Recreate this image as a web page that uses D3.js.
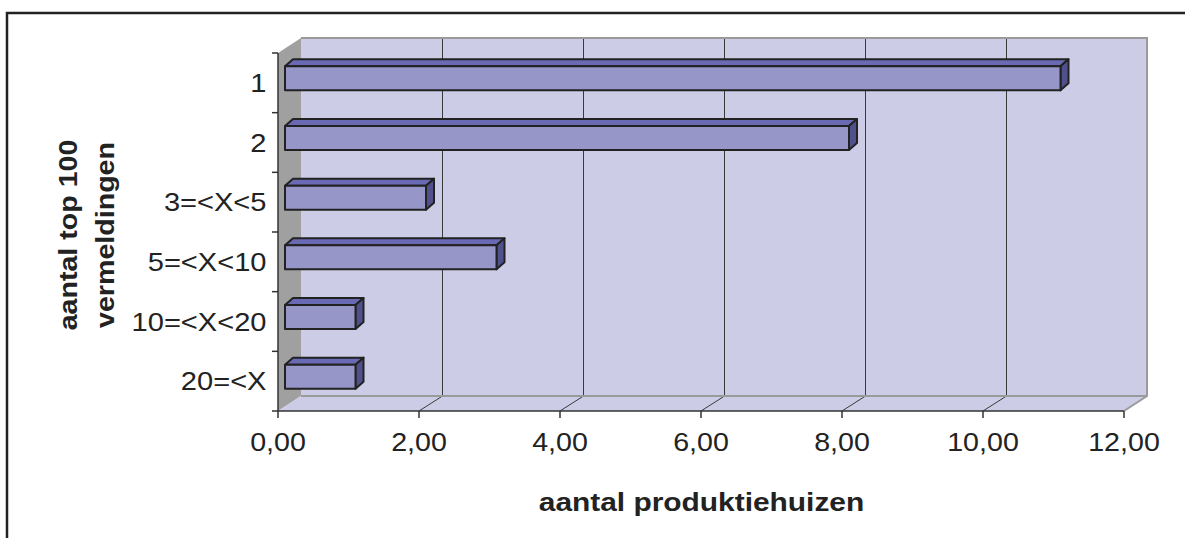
<!DOCTYPE html>
<html>
<head>
<meta charset="utf-8">
<script src="https://cdn.jsdelivr.net/npm/d3@7"></script>
<style>
  html, body { margin: 0; padding: 0; background: #fff; }
  svg { display: block; }
  text { font-family: Arial, "Liberation Sans", sans-serif; fill: #222; }
</style>
</head>
<body>
<svg id="chart" width="1185" height="538"></svg>
<script>
// Categories (number of top-100 mentions) and number of production houses
const categories = ["1", "2", "3=<X<5", "5=<X<10", "10=<X<20", "20=<X"];
const values = [11, 8, 2, 3, 1, 1];
const xTicks = [0, 2, 4, 6, 8, 10, 12];
const xTitle = "aantal produktiehuizen";
const yTitleLines = ["aantal top 100", "vermeldingen"];

const svg = d3.select("#chart");

// 3D frame geometry
const front = { left: 278, right: 1124, top: 53, bottom: 411 };
const depth = { dx: 23, dy: -15 };      // offset from front plane to back wall
const barFront = { dx: 7, dy: -4.5 };   // bar front face offset
const barDepth = { dx: 8, dy: -7 };     // bar thickness in depth
const barH = 24;

const x = d3.scaleLinear().domain([0, 12]).range([front.left, front.right]);
const y = d3.scaleBand().domain(categories).range([front.top, front.bottom]).padding(0);

const wallFill = "#CCCCE6";
const sideWallFill = "#A0A0A0";
const pts = a => a.map(p => p.join(",")).join(" ");

// outer frame
svg.append("rect")
  .attr("x", 7).attr("y", 13).attr("width", 1220).attr("height", 600)
  .attr("fill", "none").attr("stroke", "#222").attr("stroke-width", 2.5);

// left side wall
svg.append("polygon")
  .attr("points", pts([
    [front.left, front.top],
    [front.left + depth.dx, front.top + depth.dy],
    [front.left + depth.dx, front.bottom + depth.dy],
    [front.left, front.bottom]
  ]))
  .attr("fill", sideWallFill);

// floor
svg.append("polygon")
  .attr("points", pts([
    [front.left, front.bottom],
    [front.left + depth.dx, front.bottom + depth.dy],
    [front.right + depth.dx, front.bottom + depth.dy],
    [front.right, front.bottom]
  ]))
  .attr("fill", wallFill);

// back wall
svg.append("rect")
  .attr("x", front.left + depth.dx).attr("y", front.top + depth.dy)
  .attr("width", front.right - front.left).attr("height", front.bottom - front.top)
  .attr("fill", wallFill);

// gridlines on back wall and floor
const grid = svg.append("g").attr("stroke", "#3a3a3a").attr("stroke-width", 1);
xTicks.filter(t => t > 0 && t < 12).forEach(t => {
  const bx = Math.round(x(t) + depth.dx) + 0.5;
  grid.append("line")
    .attr("x1", bx).attr("x2", bx)
    .attr("y1", front.top + depth.dy).attr("y2", front.bottom + depth.dy);
  grid.append("line")
    .attr("x1", bx).attr("y1", front.bottom + depth.dy)
    .attr("x2", x(t)).attr("y2", front.bottom);
});

// wall borders
const border = svg.append("g").attr("stroke", "#9a9a9a").attr("stroke-width", 2).attr("fill", "none");
border.append("polyline")
  .attr("points", pts([
    [front.left + depth.dx, front.top + depth.dy],
    [front.right + depth.dx, front.top + depth.dy],
    [front.right + depth.dx, front.bottom + depth.dy],
    [front.right, front.bottom]
  ]));
border.append("line")
  .attr("x1", front.left + depth.dx).attr("y1", front.bottom + depth.dy)
  .attr("x2", front.right + depth.dx).attr("y2", front.bottom + depth.dy);

// axis lines and ticks
const axis = svg.append("g").attr("stroke", "#333").attr("stroke-width", 1.5);
axis.append("line")
  .attr("x1", front.left).attr("x2", front.right)
  .attr("y1", front.bottom).attr("y2", front.bottom);
axis.append("line")
  .attr("x1", front.left).attr("x2", front.left)
  .attr("y1", front.top).attr("y2", front.bottom);
xTicks.forEach(t => {
  axis.append("line")
    .attr("x1", x(t)).attr("x2", x(t))
    .attr("y1", front.bottom).attr("y2", front.bottom + 7);
});
categories.map(c => y(c)).concat([front.bottom]).forEach(b => {
  axis.append("line")
    .attr("x1", front.left - 6).attr("x2", front.left)
    .attr("y1", b).attr("y2", b);
});

// bars: top face, side face, front face
const bars = svg.append("g").attr("stroke", "#222").attr("stroke-width", 2).attr("stroke-linejoin", "round");
categories.forEach((c, i) => {
  const v = values[i];
  const x0 = x(0) + barFront.dx;
  const x1 = x(v) + barFront.dx;
  const cy = y(c) + y.bandwidth() / 2 + barFront.dy;
  const y0 = cy - barH / 2, y1 = cy + barH / 2;
  const ddx = barDepth.dx, ddy = barDepth.dy;
  bars.append("polygon")
    .attr("points", pts([[x0, y0], [x0 + ddx, y0 + ddy], [x1 + ddx, y0 + ddy], [x1, y0]]))
    .attr("fill", "#6A6AB4");
  bars.append("polygon")
    .attr("points", pts([[x1, y0], [x1 + ddx, y0 + ddy], [x1 + ddx, y1 + ddy], [x1, y1]]))
    .attr("fill", "#50508C");
  bars.append("rect")
    .attr("x", x0).attr("y", y0).attr("width", x1 - x0).attr("height", barH)
    .attr("fill", "#9696C8");
});

// category labels
const fmt = d3.formatLocale({ decimal: ",", thousands: ".", grouping: [3], currency: ["", ""] }).format(".2f");
categories.forEach(c => {
  svg.append("text")
    .attr("transform", `translate(266.5,${y(c) + y.bandwidth() / 2 + 9}) scale(1.14,1)`)
    .attr("text-anchor", "end")
    .attr("font-size", 25.5)
    .text(c);
});

// x tick labels
xTicks.forEach(t => {
  svg.append("text")
    .attr("transform", `translate(${x(t)},451) scale(1.08,1)`)
    .attr("text-anchor", "middle")
    .attr("font-size", 26.5)
    .text(fmt(t));
});

// axis titles
svg.append("text")
  .attr("transform", `translate(701.5,510.5) scale(1.15,1)`)
  .attr("text-anchor", "middle")
  .attr("font-size", 26)
  .attr("font-weight", "bold")
  .text(xTitle);

yTitleLines.forEach((line, i) => {
  svg.append("text")
    .attr("transform", `translate(${77 + i * 37},235) rotate(-90) scale(1.1,1)`)
    .attr("text-anchor", "middle")
    .attr("font-size", 26)
    .attr("font-weight", "bold")
    .text(line);
});
</script>
</body>
</html>
